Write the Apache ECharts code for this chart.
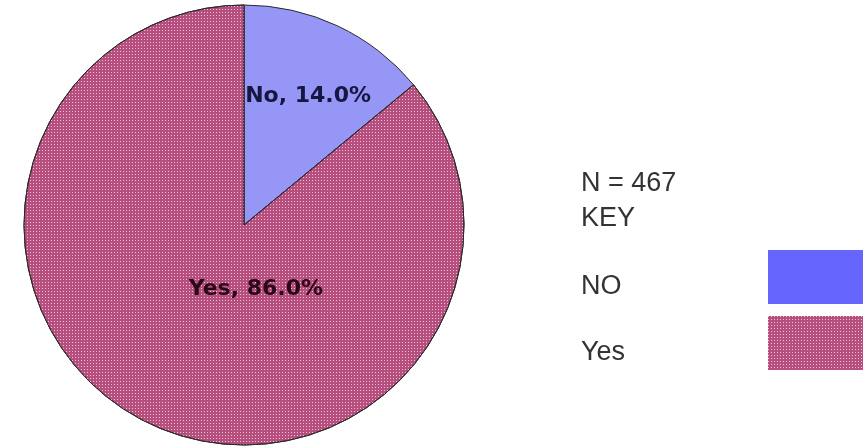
<!DOCTYPE html>
<html>
<head>
<meta charset="utf-8">
<script src="https://cdn.jsdelivr.net/npm/echarts@6/dist/echarts.min.js"></script>
<style>
  html, body { margin: 0; padding: 0; background: #fff; }
  #main { width: 863px; height: 446px; }
</style>
</head>
<body>
<div id="main"></div>
<script>
// data
var categories = ['No', 'Yes'];
var legendLabels = ['NO', 'Yes'];
var percents = [14.0, 86.0];
var sampleSize = 467;

var sliceColors = ['#9696f6', '#b64e7e'];
var keyColors = ['#6666ff', '#b64e7e'];
var labelColors = ['#161640', '#2a0818'];

var dom = document.getElementById('main');
var myChart = echarts.init(dom);

// dotted fill used for the "Yes" slice and its key
var dots = {
  symbol: 'rect',
  symbolSize: 1,
  color: '#efbfd7',
  dashArrayX: [[1, 2]],
  dashArrayY: [1, 2],
  rotation: 0
};

var pieData = categories.map(function (c, i) {
  var item = {
    name: c,
    value: percents[i],
    itemStyle: { color: sliceColors[i] },
    label: { color: labelColors[i] }
  };
  if (i === 1) item.itemStyle.decal = dots;
  return item;
});

var option = {
  animation: false,
  textStyle: {
    fontFamily: ['Liberation Sans', 'Arial', 'sans-serif']
  },
  title: {
    text: 'N = ' + sampleSize + '\nKEY',
    left: 576,
    top: 161,
    textStyle: {
      fontSize: 27,
      fontWeight: 'normal',
      color: '#333',
      lineHeight: 35
    }
  },
  legend: {
    orient: 'vertical',
    left: 576,
    top: 245,
    align: 'right',
    icon: 'rect',
    itemWidth: 96,
    itemHeight: 54,
    itemGap: 12,
    selectedMode: false,
    data: categories.map(function (c, i) {
      return { name: c, itemStyle: { color: keyColors[i], borderWidth: 0 } };
    }),
    formatter: function (name) {
      return '{t|' + legendLabels[categories.indexOf(name)] + '}';
    },
    textStyle: {
      rich: {
        t: {
          width: 182,
          align: 'left',
          fontSize: 27,
          color: '#333',
          padding: [20, 0, 0, 0]
        }
      }
    }
  },
  series: [
    {
      type: 'pie',
      center: [244, 225],
      radius: 220,
      startAngle: 90,
      clockwise: true,
      itemStyle: {
        borderColor: '#2a2a2a',
        borderWidth: 1
      },
      label: {
        show: true,
        position: 'inside',
        fontFamily: 'DejaVu Sans',
        fontSize: 22,
        fontWeight: 'bold',
        formatter: function (p) {
          return p.name + ', ' + p.value.toFixed(1) + '%';
        }
      },
      labelLine: { show: false },
      labelLayout: function (p) {
        return p.dataIndex === 0 ? { dx: 16, dy: -26 } : { dx: 60, dy: -38 };
      },
      emphasis: { disabled: true },
      data: pieData
    }
  ]
};

if (option && typeof option === 'object') {
  myChart.setOption(option, true);
}
</script>
</body>
</html>
